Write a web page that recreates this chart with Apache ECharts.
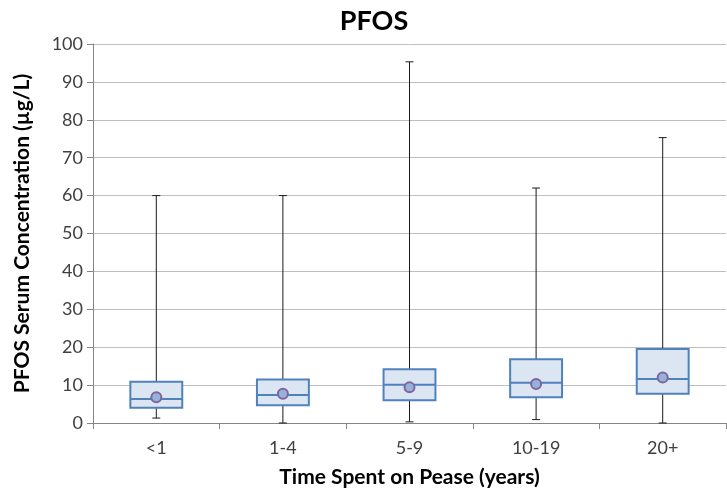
<!DOCTYPE html>
<html><head><meta charset="utf-8">
<script src="https://cdn.jsdelivr.net/npm/echarts@6/dist/echarts.min.js"></script>
<style>html,body{margin:0;padding:0;background:#fff}#c{width:727px;height:493px}</style>
</head><body><div id="c"></div>
<script>
const categories = ['<1', '1-4', '5-9', '10-19', '20+'];
const mins    = [1.3, 0, 0.3, 0.9, 0];
const q1s     = [4.0, 4.7, 6.0, 6.8, 7.7];
const medians = [6.3, 7.4, 10.1, 10.6, 11.6];
const q3s     = [10.9, 11.5, 14.2, 16.8, 19.5];
const maxs    = [60, 60, 95.3, 62, 75.3];
const means   = [6.8, 7.7, 9.4, 10.3, 12.0];
const yTicks  = [0, 10, 20, 30, 40, 50, 60, 70, 80, 90, 100];

const font = 'Lato, "Open Sans", sans-serif';
const boxData = categories.map((c, i) => [i, mins[i], q1s[i], medians[i], q3s[i], maxs[i]]);

const chart = echarts.init(document.getElementById('c'), null, {renderer: 'canvas'});
chart.setOption({
  animation: false,
  backgroundColor: '#fff',
  title: {
    text: 'PFOS', left: 369, top: 3, textAlign: 'center',
    textStyle: {fontFamily: font, fontWeight: 'bold', fontSize: 27, color: '#000'}
  },
  grid: {left: 93, right: 1, top: 44, bottom: 68, containLabel: false},
  xAxis: {
    type: 'category', data: categories, boundaryGap: true,
    name: 'Time Spent on Pease (years)', nameLocation: 'middle', nameGap: 44,
    nameTextStyle: {fontFamily: font, fontWeight: 'bold', fontSize: 21, color: '#000'},
    axisLine: {lineStyle: {color: '#868686', width: 1}},
    axisTick: {show: true, length: 6, alignWithLabel: false, lineStyle: {color: '#868686'}},
    axisLabel: {fontFamily: font, fontSize: 18, color: '#404040', margin: 16},
    splitLine: {show: false}
  },
  yAxis: {
    type: 'value', min: yTicks[0], max: yTicks[yTicks.length - 1], interval: 10,
    name: 'PFOS Serum Concentration (µg/L)', nameLocation: 'middle', nameGap: 60,
    nameTextStyle: {fontFamily: font, fontWeight: 'bold', fontSize: 21, color: '#000'},
    axisLine: {show: true, lineStyle: {color: '#868686', width: 1}},
    axisTick: {show: true, length: 6, lineStyle: {color: '#868686'}},
    axisLabel: {fontFamily: font, fontSize: 18, color: '#404040', margin: 10},
    splitLine: {show: true, lineStyle: {color: '#bfbfbf', width: 1}}
  },
  series: [
    {
      type: 'custom',
      data: boxData,
      encode: {x: 0, y: [1, 2, 3, 4, 5]},
      renderItem: function (params, api) {
        const idx = api.value(0);
        const pMin = api.coord([idx, api.value(1)]);
        const pQ1 = api.coord([idx, api.value(2)]);
        const pMed = api.coord([idx, api.value(3)]);
        const pQ3 = api.coord([idx, api.value(4)]);
        const pMax = api.coord([idx, api.value(5)]);
        const bw = api.size([1, 0])[0] * 0.41;
        const cx = pQ1[0];
        const cap = 4;
        const wStyle = {stroke: '#1a1a1a', lineWidth: 1};
        return {
          type: 'group',
          children: [
            {type: 'line', shape: {x1: cx, y1: pQ3[1], x2: cx, y2: pMax[1]}, style: wStyle},
            {type: 'line', shape: {x1: cx - cap, y1: pMax[1], x2: cx + cap, y2: pMax[1]}, style: wStyle},
            {type: 'line', shape: {x1: cx, y1: pQ1[1], x2: cx, y2: pMin[1]}, style: wStyle},
            {type: 'line', shape: {x1: cx - cap, y1: pMin[1], x2: cx + cap, y2: pMin[1]}, style: wStyle},
            {type: 'rect', shape: {x: cx - bw / 2, y: pQ3[1], width: bw, height: pQ1[1] - pQ3[1]},
              style: {fill: '#dce6f2', stroke: '#4f81bd', lineWidth: 2}},
            {type: 'line', shape: {x1: cx - bw / 2, y1: pMed[1], x2: cx + bw / 2, y2: pMed[1]},
              style: {stroke: '#4f81bd', lineWidth: 2}}
          ]
        };
      },
      z: 2
    },
    {
      type: 'scatter',
      data: means.map((m, i) => [i, m]),
      symbol: 'circle', symbolSize: 10,
      itemStyle: {color: '#95b3d7', borderColor: '#8064a2', borderWidth: 2, opacity: 1},
      z: 3
    }
  ]
});
</script></body></html>
